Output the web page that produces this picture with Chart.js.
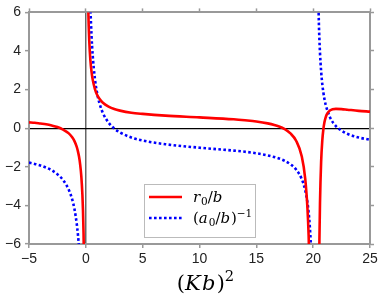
<!DOCTYPE html>
<html>
<head>
<meta charset="utf-8">
<script src="https://cdn.jsdelivr.net/npm/chart.js@4.4.0/dist/chart.umd.min.js"></script>
<style>
  html, body { margin: 0; padding: 0; background: #fff; }
</style>
</head>
<body>
<canvas id="chart" width="382" height="298"></canvas>
<script>
// values, x is (Kb)^2
// each curve is split at its poles, so every branch gets its own arrays
// labels use a tiny tex-like markup: _x subscript, ^{..} superscript
const seriesLabels = ["r_0/b", "(a_0/b)^{\u22121}"];
const xTitle = "(Kb)^2";
const xTicks = [-5, 0, 5, 10, 15, 20, 25];
const yTicks = [-6, -4, -2, 0, 2, 4, 6];

// r0/b (red, solid)
const redLeftX = [-5, -4.5, -4, -3.5, -3, -2.5, -2, -1.5, -1.2, -1, -0.8, -0.7, -0.6, -0.5, -0.4, -0.3, -0.25, -0.2, -0.15];
const redLeftY = [0.30, 0.28, 0.24, 0.20, 0.14, 0.06, -0.07, -0.27, -0.47, -0.67, -0.97, -1.19, -1.47, -1.87, -2.47, -3.47, -4.27, -5.47, -7.47];
const redMidX = [0.18, 0.2, 0.25, 0.3, 0.4, 0.5, 0.6, 0.8, 1, 1.2, 1.5, 2, 2.5, 3, 4, 5, 7, 10, 13, 14, 15, 16, 17, 17.5, 18, 18.5, 19, 19.3, 19.5, 19.6, 19.7];
const redMidY = [7.19, 6.53, 5.33, 4.53, 3.53, 2.93, 2.53, 2.03, 1.72, 1.52, 1.32, 1.12, 0.99, 0.91, 0.80, 0.74, 0.65, 0.56, 0.46, 0.41, 0.35, 0.25, 0.09, -0.05, -0.27, -0.65, -1.47, -2.61, -4.18, -5.55, -7.74];
const redRightX = [20.5, 20.55, 20.6, 20.7, 20.8, 20.9, 21, 21.1, 21.2, 21.5, 22, 22.5, 23, 24, 25];
const redRightY = [-8.78, -5.79, -3.90, -1.75, -0.66, -0.04, 0.33, 0.56, 0.72, 0.93, 1.00, 0.99, 0.96, 0.90, 0.86];

// (a0/b)^-1 (blue, dotted)
const blueLeftX = [-5, -4.5, -4, -3.5, -3, -2.5, -2, -1.5, -1.2, -1, -0.8, -0.7, -0.6, -0.5];
const blueLeftY = [-1.78, -1.85, -1.93, -2.04, -2.18, -2.39, -2.69, -3.19, -3.69, -4.19, -4.95, -5.48, -6.20, -7.20];
const blueMidX = [0.35, 0.4, 0.5, 0.6, 0.8, 1, 1.2, 1.5, 2, 2.5, 3, 4, 5, 7, 10, 13, 14, 15, 16, 17, 17.5, 18, 18.5, 19, 19.3, 19.5, 19.6, 19.7, 19.8, 19.9];
const blueMidY = [7.37, 6.30, 4.80, 3.80, 2.55, 1.79, 1.29, 0.79, 0.29, -0.02, -0.22, -0.48, -0.64, -0.83, -1.01, -1.16, -1.22, -1.30, -1.41, -1.57, -1.69, -1.87, -2.14, -2.64, -3.21, -3.86, -4.36, -5.05, -6.09, -7.85];
const blueRightX = [20.4, 20.5, 20.55, 20.6, 20.7, 20.8, 20.9, 21, 21.1, 21.5, 22, 22.5, 23, 24, 25];
const blueRightY = [8.58, 5.49, 4.59, 3.91, 2.95, 2.30, 1.84, 1.49, 1.22, 0.54, 0.11, -0.13, -0.29, -0.48, -0.60];

const RED = "#ff0000";
const BLUE = "#0000ff";
const FRAME = "#999999";
const MATH_FONT = "'DejaVu Serif'";

function pairs(xs, ys) {
    return xs.map((x, i) => ({ x: x, y: ys[i] }));
}

function redBranch(xs, ys) {
    return {
        label: seriesLabels[0],
        data: pairs(xs, ys),
        borderColor: RED,
        borderWidth: 2.6,
    };
}

function blueBranch(xs, ys) {
    return {
        label: seriesLabels[1],
        data: pairs(xs, ys),
        borderColor: BLUE,
        borderWidth: 2.6,
        borderDash: [2.6, 2.4],
    };
}

// minus sign like the reference
function fmt(v) {
    return v < 0 ? "\u2212" + Math.abs(v) : String(v);
}

function fixedTicks(list) {
    return axis => { axis.ticks = list.map(v => ({ value: v })); };
}

// split "r_0/b" style strings into characters with a shift (-1 sub, 1 sup)
function mathRuns(str) {
    const runs = [];
    let i = 0;
    while (i < str.length) {
        const ch = str[i];
        if (ch === "_" || ch === "^") {
            const shift = ch === "_" ? -1 : 1;
            i++;
            let group;
            if (str[i] === "{") {
                const j = str.indexOf("}", i);
                group = str.slice(i + 1, j);
                i = j + 1;
            } else {
                group = str[i];
                i++;
            }
            for (const c of group) runs.push({ c: c, shift: shift });
            continue;
        }
        runs.push({ c: ch, shift: 0 });
        i++;
    }
    return runs;
}

// letters italic, everything else upright, like mathtext
function drawMath(ctx, str, x, y, size, align) {
    const runs = mathRuns(str);
    const fontFor = r => {
        const s = r.shift ? size * 0.7 : size;
        const it = /[A-Za-z]/.test(r.c) ? "italic " : "";
        return it + s + "px " + MATH_FONT;
    };
    let width = 0;
    runs.forEach(r => {
        ctx.font = fontFor(r);
        r.w = ctx.measureText(r.c).width + (/[A-Za-z]/.test(r.c) ? size * 0.06 : 0);
        width += r.w;
    });
    let cx = align === "center" ? x - width / 2 : x;
    ctx.textBaseline = "alphabetic";
    ctx.textAlign = "left";
    runs.forEach(r => {
        ctx.font = fontFor(r);
        const dy = r.shift > 0 ? -0.42 * size : r.shift < 0 ? 0.22 * size : 0;
        ctx.fillText(r.c, cx, y + dy);
        cx += r.w;
    });
}

// legend box inside the plot, and the math x title
const mathText = {
    id: "mathText",
    afterDraw(chart) {
        const ctx = chart.ctx;
        const area = chart.chartArea;
        ctx.save();
        ctx.fillStyle = "#000";
        drawMath(ctx, xTitle, (area.left + area.right) / 2 + 6, 289.5, 21, "center");

        const left = 144, top = 184, w = 111, h = 53;
        ctx.fillStyle = "#fff";
        ctx.fillRect(left, top, w, h);
        ctx.strokeStyle = "#bbbbbb";
        ctx.lineWidth = 1;
        ctx.strokeRect(left + 0.5, top + 0.5, w, h);

        const rows = [
            { ds: chart.data.datasets[0], y: top + 13 },
            { ds: chart.data.datasets[3], y: top + 34 },
        ];
        rows.forEach(r => {
            ctx.beginPath();
            ctx.strokeStyle = r.ds.borderColor;
            ctx.lineWidth = r.ds.borderWidth;
            ctx.setLineDash(r.ds.borderDash || []);
            ctx.moveTo(left + 5, r.y);
            ctx.lineTo(left + 38, r.y);
            ctx.stroke();
            ctx.setLineDash([]);
            ctx.fillStyle = "#000";
            drawMath(ctx, r.ds.label, left + 49, r.y + 5, 15, "left");
        });
        ctx.restore();
    }
};

document.addEventListener("DOMContentLoaded", () => {
    const tickFont = { family: "'Liberation Sans'", size: 14 };

    new Chart(document.getElementById("chart"), {
        type: "scatter",
        data: {
            datasets: [
                redBranch(redLeftX, redLeftY),
                redBranch(redMidX, redMidY),
                redBranch(redRightX, redRightY),
                blueBranch(blueLeftX, blueLeftY),
                blueBranch(blueMidX, blueMidY),
                blueBranch(blueRightX, blueRightY),
            ]
        },
        options: {
            responsive: false,
            animation: false,
            devicePixelRatio: 1,
            layout: { padding: 0 },
            datasets: {
                scatter: {
                    showLine: true,
                    pointRadius: 0,
                    pointHoverRadius: 0,
                    fill: false,
                    cubicInterpolationMode: "monotone",
                    clip: 0,
                }
            },
            plugins: {
                legend: { display: false },
                tooltip: { enabled: false },
            },
            scales: {
                x: {
                    type: "linear",
                    position: "bottom",
                    min: -5,
                    max: 25,
                    afterBuildTicks: fixedTicks(xTicks),
                    ticks: { color: "#222", font: tickFont, padding: 3, callback: fmt, maxRotation: 0 },
                    grid: {
                        color: c => (c.tick && c.tick.value === 0 ? "#666" : "rgba(0,0,0,0)"),
                        lineWidth: 1.5,
                        tickColor: FRAME,
                        tickLength: 4,
                        tickWidth: 1.5,
                    },
                    border: { color: FRAME, width: 2 },
                    afterFit: s => { s.height = 54; },
                },
                x2: {
                    type: "linear",
                    position: "top",
                    min: -5,
                    max: 25,
                    afterBuildTicks: fixedTicks(xTicks),
                    ticks: { display: false },
                    grid: { drawOnChartArea: false, tickColor: FRAME, tickLength: 4, tickWidth: 1.5 },
                    border: { color: FRAME, width: 2 },
                    afterFit: s => { s.height = 10; },
                },
                y: {
                    type: "linear",
                    position: "left",
                    min: -6,
                    max: 6,
                    afterBuildTicks: fixedTicks(yTicks),
                    ticks: { color: "#222", font: tickFont, padding: 4, callback: fmt },
                    grid: {
                        color: c => (c.tick && c.tick.value === 0 ? "#000" : "rgba(0,0,0,0)"),
                        lineWidth: 1.3,
                        tickColor: FRAME,
                        tickLength: 4,
                        tickWidth: 1.5,
                    },
                    border: { color: FRAME, width: 2 },
                    afterFit: s => { s.width = 29; },
                },
                y2: {
                    type: "linear",
                    position: "right",
                    min: -6,
                    max: 6,
                    afterBuildTicks: fixedTicks(yTicks),
                    ticks: { display: false },
                    grid: { drawOnChartArea: false, tickColor: FRAME, tickLength: 4, tickWidth: 1.5 },
                    border: { color: FRAME, width: 2 },
                    afterFit: s => { s.width = 12; },
                },
            }
        },
        plugins: [mathText]
    });
});
</script>
</body>
</html>
